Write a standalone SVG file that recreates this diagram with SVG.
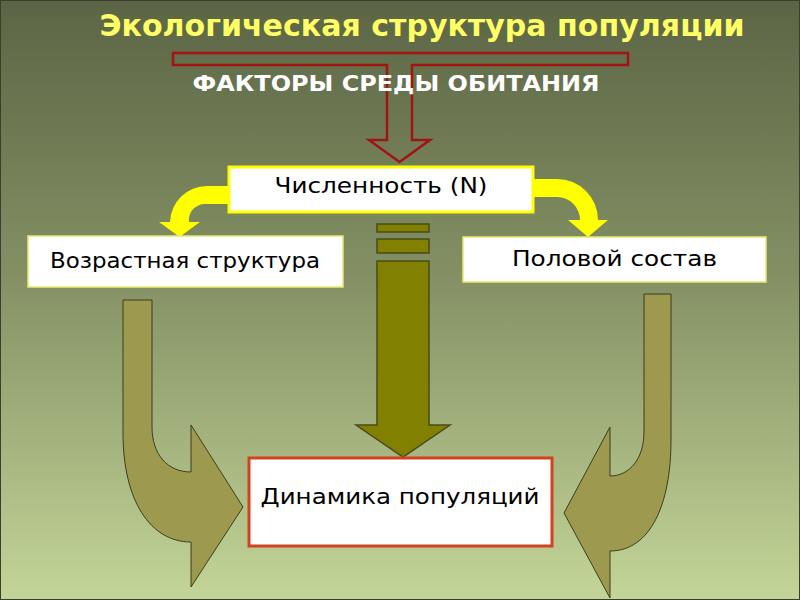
<svg xmlns="http://www.w3.org/2000/svg" width="800" height="600" viewBox="0 0 800 600">
<defs>
<linearGradient id="bg" x1="0" y1="0" x2="0" y2="1">
<stop offset="0" stop-color="#5b6545"/>
<stop offset="0.45" stop-color="#838f63"/>
<stop offset="1" stop-color="#c3d598"/>
</linearGradient>
<style>
.box{fill:#ffffff}
.lbl{font-family:"DejaVu Sans","Liberation Sans",sans-serif;font-size:22px;fill:#000000;text-anchor:middle}
.yel{fill:#ffff00;stroke:none}
.olive{fill:#9d9a4f;stroke:#3d3d1c;stroke-width:1}
.cen{fill:#818000;stroke:#4a4a1c;stroke-width:1.5}
</style>
</defs>
<rect x="0" y="0" width="800" height="600" fill="url(#bg)"/>
<rect x="0.5" y="0.5" width="799" height="599" fill="none" stroke="#3a402c" stroke-width="1"/>

<text x="422" y="36" text-anchor="middle" font-family="'DejaVu Sans','Liberation Sans',sans-serif" font-weight="bold" font-size="30" fill="#ffff66" textLength="645" lengthAdjust="spacingAndGlyphs">Экологическая структура популяции</text>

<g id="connectors">
<path d="M173,53 H628 V65 H412 V140 H430 L399.5,162 L369,140 H387 V65 H173 Z" fill="none" stroke="#a01414" stroke-width="2.5"/>
<path class="yel" d="M229,186 H207 A37,37 0 0 0 170,222 H159 L179.5,237 L200,222 H189 A16,16 0 0 1 205,204 H229 Z"/>
<path class="yel" d="M533,179 H557 A41,41 0 0 1 598,220 H608 L588,237 L568,220 H580 A23,23 0 0 0 557,197 H533 Z"/>
<rect class="cen" x="377" y="224" width="52" height="8"/>
<rect class="cen" x="377" y="239" width="52" height="14"/>
<path class="cen" d="M377,261 H429 V425 H450 L403,457 L356,425 H377 Z"/>
<path class="olive" d="M123,300 H152 V427 C152,455 168,472 191,472 V425 L243,507 L191,587 V542 C150,542 123,500 123,433 Z"/>
<path class="olive" d="M644,294 H671 V440 C671,505 650,551 610,551 V598 L564,513 L610,427 V476 C630,476 644,458 644,432 Z"/>
</g>

<text x="396" y="91" text-anchor="middle" font-family="'DejaVu Sans','Liberation Sans',sans-serif" font-weight="bold" font-size="21" fill="#ffffff" textLength="407" lengthAdjust="spacingAndGlyphs">ФАКТОРЫ СРЕДЫ ОБИТАНИЯ</text>

<g id="numbers">
<rect class="box" x="229" y="167" width="304" height="45" stroke="#ffff00" stroke-width="3"/>
<text class="lbl" x="381" y="193" textLength="213" lengthAdjust="spacingAndGlyphs">Численность (N)</text>
</g>
<g id="age">
<rect class="box" x="28" y="236" width="315" height="51" stroke="#e8e870" stroke-width="1.5"/>
<text class="lbl" x="185" y="268" textLength="270" lengthAdjust="spacingAndGlyphs">Возрастная структура</text>
</g>
<g id="sex">
<rect class="box" x="463" y="237" width="303" height="45" stroke="#e8e870" stroke-width="1.5"/>
<text class="lbl" x="614.5" y="266" textLength="205" lengthAdjust="spacingAndGlyphs">Половой состав</text>
</g>
<g id="dynamics">
<rect class="box" x="249" y="458" width="303" height="88" stroke="#d2421e" stroke-width="3"/>
<text class="lbl" x="400" y="504" textLength="279" lengthAdjust="spacingAndGlyphs">Динамика популяций</text>
</g>
</svg>
